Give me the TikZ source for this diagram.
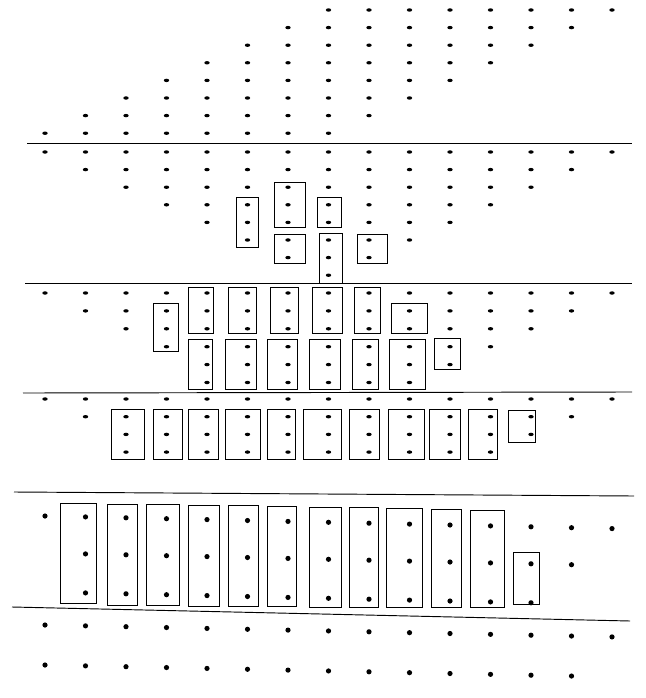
\documentclass[tikz,border=0pt]{standalone}
\begin{document}
\begin{tikzpicture}[x=.3mm,y=-.3mm,
  box/.style={draw,line width=.7pt},
  rule/.style={draw,line width=.8pt}]
  \useasboundingbox (0,0) rectangle (645,698);
  % rules between the blocks
  \draw[rule] (27,143)--(632,143);
  \draw[rule] (25,283)--(632,283);
  \draw[rule] (23,393)--(632,392);
  \draw[rule] (14,492)--(634,496);
  \draw[rule] (12,607)--(630,621);
  % block 1
  \foreach \r in {1,...,8}{
    \pgfmathtruncatemacro\a{9-\r}\pgfmathtruncatemacro\b{16-\r}
    \foreach \c in {\a,...,\b} \fill ({45+40.5*(\c-1)},{10+17.6*(\r-1)}) ellipse (2.7 and 1.7);
  }
  % block 2
  \foreach \r in {1,...,8}{
    \pgfmathtruncatemacro\b{16-\r}
    \foreach \c in {\r,...,\b} \fill ({45+40.5*(\c-1)},{152+17.6*(\r-1)}) ellipse (2.7 and 1.7);
  }
  \foreach \u/\v/\p/\q in {236/197/258/247,274/182/305/227,317/197/341/227,
      274/234/305/263,319/233/342/283,357/234/387/263}
    \draw[box] (\u,\v) rectangle (\p,\q);
  % block 3
  \foreach \c/\m in {1/1,2/2,3/3,4/4,5/6,6/6,7/6,8/6,9/6,10/6,11/5,12/4,13/3,14/2,15/1}
    \foreach \r in {1,...,\m} \fill ({45+40.5*(\c-1)},{293+17.9*(\r-1)}) ellipse (2.7 and 1.7);
  \foreach \u/\v/\p/\q in {153/303/178/351,
      188/287/213/333,228/287/256/333,270/287/298/333,312/287/342/333,354/287/380/333,
      391/303/427/333,
      188/339/212/389,225/339/256/389,267/339/297/389,309/339/340/389,352/339/378/389,389/339/425/389,
      434/338/460/369}
    \draw[box] (\u,\v) rectangle (\p,\q);
  % block 4
  \foreach \r/\a/\b in {1/1/15,2/2/14,3/3/13,4/3/12}
    \foreach \c in {\a,...,\b} \fill ({45+40.5*(\c-1)},{399+17.7*(\r-1)}) ellipse (2.7 and 1.7);
  \foreach \u/\p in {111/144,153/182,188/218,225/260,267/295,303/341,349/379,388/424,429/460,468/497}
    \draw[box] (\u,409) rectangle (\p,459);
  \draw[box] (508,410) rectangle (535,442);
  % block 5
  \foreach \y/\a/\b in {516/1/15,553/2/14,592/2/13}
    \foreach \c in {\a,...,\b} \fill ({45+40.5*(\c-1)},{\y+.9*(\c-1)}) circle (2.6);
  \foreach \u/\v/\p/\q in {60/503/96/603,107/504/137/605,146/504/179/605,188/505/219/606,
      228/505/258/606,267/506/296/606,309/507/341/607,349/507/378/607,386/508/422/607,
      431/509/461/607,470/510/504/607,513/552/539/604}
    \draw[box] (\u,\v) rectangle (\p,\q);
  % block 6
  \foreach \y/\b in {625/15,665/14}
    \foreach \c in {1,...,\b} \fill ({45+40.5*(\c-1)},{\y+.85*(\c-1)}) circle (2.6);
\end{tikzpicture}
\end{document}
